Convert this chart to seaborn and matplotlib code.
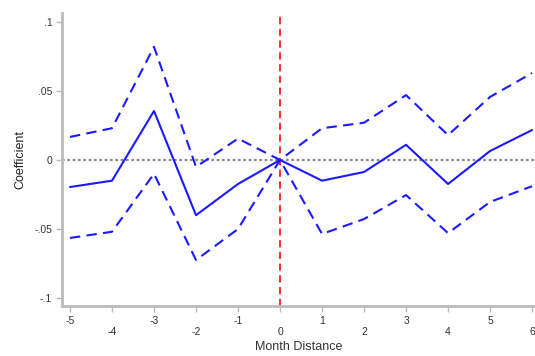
import numpy as np
import pandas as pd
import matplotlib
matplotlib.use("Agg")
import matplotlib.pyplot as plt
import seaborn as sns

# Event-study estimates by month distance from the event
month = [-5, -4, -3, -2, -1, 0, 1, 2, 3, 4, 5, 6]
coef = [-0.0196, -0.015, 0.0355, -0.040, -0.0174, 0.0, -0.015, -0.0087, 0.011, -0.0174, 0.0065, 0.0217]
ci_upper = [0.0167, 0.023, 0.082, -0.005, 0.0155, 0.0, 0.023, 0.027, 0.047, 0.018, 0.0457, 0.063]
ci_lower = [-0.0565, -0.052, -0.010, -0.0725, -0.050, 0.0, -0.0536, -0.0428, -0.0254, -0.053, -0.0304, -0.019]

yticks = [-0.1, -0.05, 0, 0.05, 0.1]
ytick_labels = ["-.1", "-.05", "0", ".05", ".1"]

sns.set_theme(style="white")
plt.rcParams["font.family"] = ["Liberation Sans", "DejaVu Sans"]

df = pd.DataFrame({"month": month, "coef": coef, "upper": ci_upper, "lower": ci_lower})

fig = plt.figure(figsize=(5.35, 3.56), dpi=100)
ax = fig.add_axes([62 / 535, 50 / 356, 1 - 62 / 535, 293 / 356])

blue = "#1a1aff"
ax.axhline(0, color="#888888", linestyle=(0, (1.2, 1.2)), linewidth=1.6, zorder=1)
ax.axvline(0, color="#ff1a1a", linestyle=(0, (4, 2.5)), linewidth=1.3, zorder=1)

sns.lineplot(data=df, x="month", y="upper", ax=ax, color=blue, linewidth=1.5,
             linestyle=(0, (5, 3)), zorder=3)
sns.lineplot(data=df, x="month", y="coef", ax=ax, color=blue, linewidth=1.5, zorder=3)
sns.lineplot(data=df, x="month", y="lower", ax=ax, color=blue, linewidth=1.5,
             linestyle=(0, (5, 3)), zorder=3)

ax.set_xlim(-5.19, 6.07)
ax.set_ylim(-0.1058, 0.1065)

ax.set_yticks(yticks)
ax.set_yticklabels(ytick_labels)
ax.set_xticks(month)
ax.set_xticklabels([str(m) if i % 2 == 0 else "\n" + str(m) for i, m in enumerate(month)])

ax.set_xlabel("Month Distance", fontsize=9, color="#333333", labelpad=3)
ax.set_ylabel("Coefficient", fontsize=9, color="#222222", labelpad=6)

for side in ["top", "right"]:
    ax.spines[side].set_visible(False)
for side in ["left", "bottom"]:
    ax.spines[side].set_color("#bbbbbb")
    ax.spines[side].set_linewidth(2)

ax.tick_params(axis="both", which="both", bottom=True, left=True, length=4, width=1,
               color="#bbbbbb", labelsize=7.5, labelcolor="#333333", direction="out")
ax.tick_params(axis="x", pad=3)
ax.tick_params(axis="y", pad=3)
ax.grid(False)

fig.savefig("out.png", dpi=100)
